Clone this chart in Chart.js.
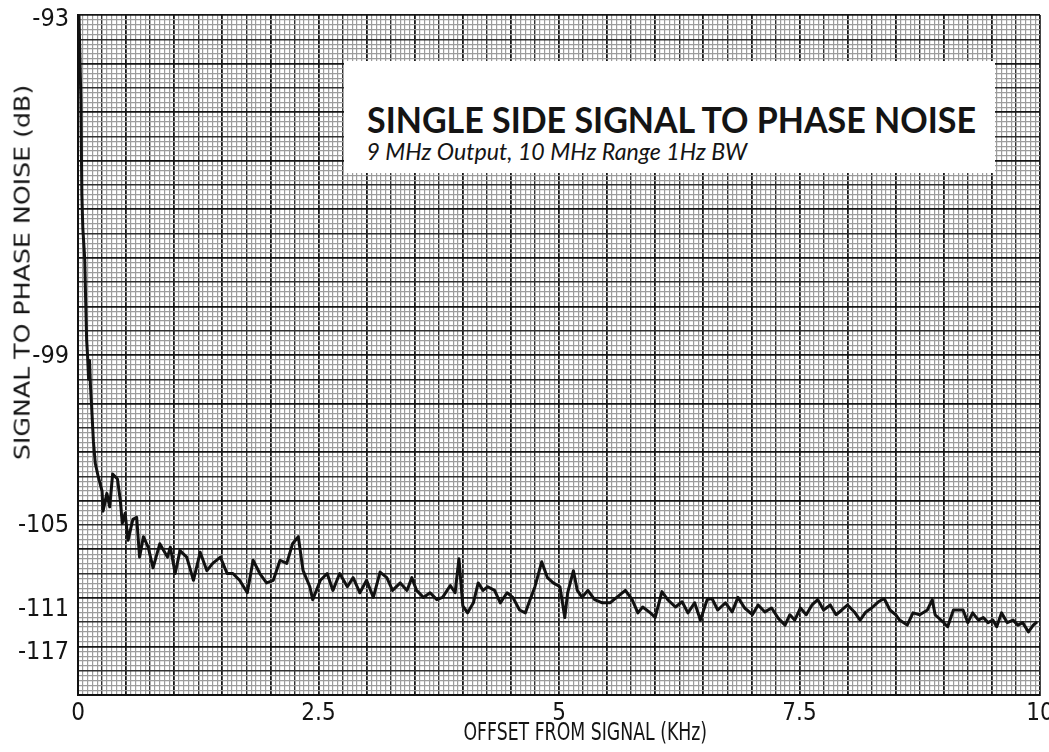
<!DOCTYPE html>
<html><head><meta charset="utf-8">
<script src="https://cdn.jsdelivr.net/npm/chart.js@4.4.1/dist/chart.umd.min.js"></script>
<style>
html,body{margin:0;padding:0;background:#fff;}
#wrap{position:relative;width:1049px;height:752px;overflow:hidden;background:#fff;}
canvas{position:absolute;left:0;top:0;}
.ov{position:absolute;white-space:nowrap;line-height:1;color:#141414;}
#box{position:absolute;left:344px;top:61px;width:651px;height:112px;background:#fff;}
#t1{font:bold 36px Lato,'DejaVu Sans',sans-serif;}
#t2{font:italic 23px Lato,'DejaVu Sans',sans-serif;}
#yt{font:22px 'DejaVu Sans Condensed','DejaVu Sans',sans-serif;}
#xt{font:25px 'DejaVu Sans Condensed','DejaVu Sans',sans-serif;}
</style></head><body>
<div id="wrap">
<canvas id="c" width="1049" height="752"></canvas>
<div id="box"></div>
<div class="ov" id="t1">SINGLE SIDE SIGNAL TO PHASE NOISE</div>
<div class="ov" id="t2">9 MHz Output, 10 MHz Range 1Hz BW</div>
<div class="ov" id="yt">SIGNAL TO PHASE NOISE (dB)</div>
<div class="ov" id="xt">OFFSET FROM SIGNAL (KHz)</div>
</div>
<script>
// ---- data (offset in kHz, single-side signal-to-phase-noise in dB) ----
const offsetKHz = [
 0.01,0.02,0.03,0.04,0.05,0.07,0.08,0.09,0.10,0.11,
 0.12,0.13,0.14,0.16,0.18,0.21,0.25,0.26,0.30,0.33,
 0.36,0.41,0.44,0.46,0.49,0.52,0.57,0.61,0.64,0.68,
 0.73,0.78,0.85,0.93,0.96,1.01,1.06,1.13,1.20,1.27,
 1.34,1.40,1.48,1.55,1.61,1.68,1.76,1.82,1.89,1.96,
 2.03,2.10,2.17,2.23,2.29,2.34,2.41,2.44,2.52,2.59,
 2.65,2.72,2.80,2.86,2.93,3.00,3.07,3.14,3.21,3.27,
 3.35,3.42,3.47,3.52,3.59,3.66,3.73,3.79,3.87,3.92,
 3.96,4.00,4.05,4.11,4.16,4.21,4.26,4.33,4.39,4.46,
 4.52,4.59,4.65,4.70,4.75,4.82,4.88,4.94,5.01,5.06,
 5.09,5.15,5.19,5.24,5.30,5.37,5.45,5.53,5.60,5.69,
 5.76,5.82,5.87,5.95,6.00,6.07,6.13,6.21,6.28,6.34,
 6.41,6.47,6.54,6.59,6.65,6.73,6.80,6.86,6.93,7.01,
 7.07,7.14,7.21,7.28,7.35,7.40,7.45,7.51,7.57,7.63,
 7.69,7.75,7.82,7.88,7.94,8.00,8.07,8.13,8.19,8.25,
 8.32,8.38,8.44,8.50,8.54,8.62,8.68,8.75,8.83,8.88,
 8.91,8.99,9.04,9.10,9.15,9.20,9.25,9.30,9.36,9.41,
 9.46,9.51,9.55,9.60,9.66,9.72,9.77,9.82,9.88,9.93,
 9.97
];
const noiseDb = [
 -92.94,-93.5,-94.1,-95.6,-96.2,-96.8,-97.7,-98.6,-99.0,-99.6,
 -99.1,-99.8,-100.3,-101.5,-102.3,-102.8,-103.4,-104.3,-103.5,-104.1,
 -102.7,-102.9,-103.8,-104.9,-104.4,-105.8,-104.7,-104.6,-106.8,-105.6,
 -106.2,-107.5,-106.0,-106.8,-106.2,-107.9,-106.4,-106.8,-108.4,-106.5,
 -107.7,-107.2,-106.8,-107.9,-107.9,-108.4,-109.4,-107.0,-107.9,-108.6,
 -108.4,-107.0,-107.2,-106.0,-105.6,-107.7,-108.9,-110.0,-108.4,-107.9,
 -109.2,-107.9,-108.9,-108.2,-109.4,-108.4,-109.8,-107.8,-108.2,-109.2,
 -108.6,-109.2,-108.2,-109.2,-109.8,-109.4,-110.0,-109.8,-108.8,-109.4,
 -106.9,-110.6,-111.3,-110.3,-108.6,-109.2,-108.9,-109.2,-110.3,-109.4,
 -109.8,-111.0,-111.3,-110.0,-108.9,-107.1,-108.2,-108.6,-108.9,-111.8,
 -109.4,-107.7,-109.2,-109.8,-109.2,-110.0,-110.3,-110.3,-109.8,-109.2,
 -110.0,-111.3,-110.7,-111.3,-111.8,-109.3,-110.0,-110.7,-110.2,-111.3,
 -110.3,-112.1,-110.0,-109.9,-111.0,-110.3,-111.2,-109.8,-110.8,-111.5,
 -110.5,-111.2,-110.8,-111.9,-112.7,-111.5,-112.1,-110.8,-111.5,-110.5,
 -110.0,-111.0,-110.5,-111.5,-111.0,-110.5,-111.2,-112.1,-111.2,-110.8,
 -110.2,-109.9,-111.0,-111.5,-112.1,-112.7,-111.3,-111.5,-111.0,-110.0,
 -111.5,-112.3,-112.9,-111.0,-111.0,-111.0,-112.4,-111.3,-112.1,-111.8,
 -112.4,-112.1,-112.9,-111.3,-112.4,-112.1,-112.7,-112.4,-113.6,-112.7,
 -112.3
];
const yTickDb = [-93, -99, -105, -111, -117];   // labelled dB values
const yTopDb = -92.94;                          // dB value at top edge of the paper
const xTickKHz = [0, 2.5, 5, 7.5, 10];          // labelled offsets
const xMaxKHz = 10;
const xMinorPerKHz = 20;                        // paper: 0.05 kHz fine rulings
const gridMinorRows = 140;                      // paper: 28 rows x 5 fine rulings

// ---- y axis: linear in amplitude, labelled in dB ----
class AmplitudeDbScale extends Chart.Scale {
  parse(raw){ const v = +raw; return isFinite(v) ? v : null; }
  determineDataLimits(){ this.min = this.options.min; this.max = this.options.max; }
  buildTicks(){ return (this.options.tickValues || []).map(v => ({value: v})); }
  getLabelForValue(v){ return String(v); }
  getPixelForValue(v){ return this.getPixelForDecimal(Math.pow(10, (v - this.max) / 20)); }
  getValueForPixel(p){ return this.max + 20 * Math.log10(Math.max(1e-9, this.getDecimalForPixel(p))); }
}
AmplitudeDbScale.id = 'amplitudeDb';
AmplitudeDbScale.defaults = {};
Chart.register(AmplitudeDbScale);

const narrow = "'DejaVu Sans Condensed','DejaVu Sans',sans-serif";
const near = (a, b) => Math.abs(a - b) < 1e-6;

function gridStyle(idx){
  if (idx % 10 === 0) return {c:'#161616', w:1.8};
  if (idx % 5 === 0) return {c:'#303030', w:1.4};
  return {c:'#9c9c9c', w:1.2};
}

new Chart(document.getElementById('c'), {
  type: 'line',
  data: { datasets: [{
    data: offsetKHz.map((x, i) => ({x: x, y: noiseDb[i]})),
    borderColor: '#111111', borderWidth: 3, pointRadius: 0, tension: 0, fill: false,
    borderJoinStyle: 'round', xAxisID: 'x', yAxisID: 'y'
  }]},
  options: {
    responsive: false, animation: false, devicePixelRatio: 1,
    layout: { padding: { left: 0, right: 9, top: 15, bottom: 0 } },
    plugins: { legend: {display: false}, tooltip: {enabled: false}, title: {display: false} },
    scales: {
      x: {
        type: 'linear', min: 0, max: xMaxKHz,
        ticks: {
          stepSize: 1 / xMinorPerKHz, autoSkip: false, maxRotation: 0, padding: 4,
          color: '#141414', font: {family: narrow, size: 24},
          callback: v => xTickKHz.some(t => near(t, v)) ? String(xTickKHz.find(t => near(t, v))) : ''
        },
        grid: {
          drawTicks: false,
          color: ctx => gridStyle(Math.round(ctx.tick.value * xMinorPerKHz)).c,
          lineWidth: ctx => gridStyle(Math.round(ctx.tick.value * xMinorPerKHz)).w
        },
        border: { display: true, color: '#111', width: 2 },
        afterFit: s => { s.height = 57; s.paddingLeft = 0; s.paddingRight = 0; }
      },
      y: {
        type: 'amplitudeDb', position: 'left', min: -200, max: yTopDb, tickValues: yTickDb,
        ticks: { padding: 9, color: '#141414', font: {family: narrow, size: 25} },
        grid: { display: false, drawTicks: false },
        border: { display: true, color: '#111', width: 2 },
        afterFit: s => { s.width = 78; s.paddingTop = 0; s.paddingBottom = 0; }
      },
      g: {
        type: 'linear', position: 'left', min: 0, max: gridMinorRows,
        ticks: { display: false, stepSize: 1, autoSkip: false },
        grid: {
          drawTicks: false,
          color: ctx => gridStyle(Math.round(ctx.tick.value)).c,
          lineWidth: ctx => gridStyle(Math.round(ctx.tick.value)).w
        },
        border: { display: false },
        afterFit: s => { s.width = 0; s.paddingTop = 0; s.paddingBottom = 0; }
      }
    }
  }
});

// ---- text overlays ----
function place(id, cx, cy, w, rot){
  const el = document.getElementById(id);
  el.style.transform = 'none';
  const nw = el.offsetWidth, nh = el.offsetHeight;
  el.style.left = (cx - nw / 2) + 'px';
  el.style.top = (cy - nh / 2) + 'px';
  el.style.transformOrigin = '50% 50%';
  el.style.transform = 'rotate(' + rot + 'deg) scaleX(' + (w / nw) + ')';
}
function layoutText(){
  place('t1', 671, 119, 609, 0);
  place('t2', 557, 151, 381, 0);
  place('yt', 22, 272, 375, -90);
  place('xt', 585, 731, 244, 0);
}
layoutText();
if (document.fonts && document.fonts.ready) document.fonts.ready.then(layoutText);
</script>
</body></html>
